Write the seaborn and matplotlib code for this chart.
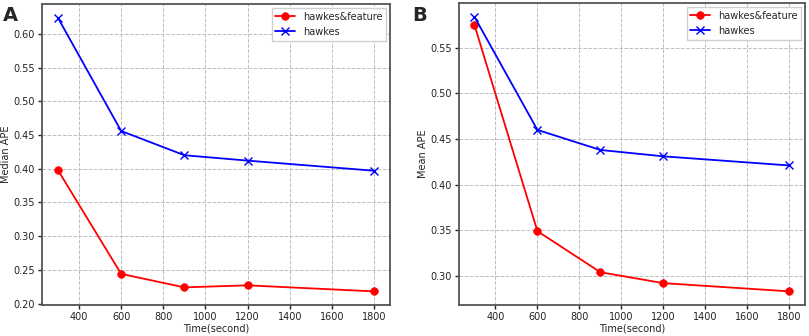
import matplotlib
matplotlib.use("Agg")
import matplotlib.pyplot as plt
import seaborn as sns
import pandas as pd

times = [300, 600, 900, 1200, 1800]
median_feature = [0.398, 0.244, 0.224, 0.227, 0.218]
median_hawkes = [0.624, 0.456, 0.420, 0.412, 0.397]
mean_feature = [0.575, 0.349, 0.304, 0.292, 0.283]
mean_hawkes = [0.584, 0.460, 0.438, 0.431, 0.421]
series_names = ["hawkes&feature", "hawkes"]

sns.set_style("ticks")
plt.rcParams['font.family'] = ['DejaVu Sans']

fig = plt.figure(figsize=(8.09, 3.36), dpi=100)
ax1 = fig.add_axes([0.052, 0.092, 0.430, 0.896])
ax2 = fig.add_axes([0.567, 0.092, 0.428, 0.899])

def draw(ax, feat, hawk, ylabel, letter, lx):
    sns.lineplot(x=times, y=feat, color="red", marker="o", markersize=5.5,
                 markeredgecolor="red", markeredgewidth=0.5, linewidth=1.3,
                 label=series_names[0], ax=ax)
    sns.lineplot(x=times, y=hawk, color="blue", marker="x", markersize=5.5,
                 markeredgecolor="blue", markeredgewidth=1.0, linewidth=1.3,
                 label=series_names[1], ax=ax)
    ax.grid(True, linestyle="--", color="#bdbdbd", linewidth=0.7)
    ax.set_xlabel("Time(second)", fontsize=7, labelpad=1, color="#222222")
    ax.set_ylabel(ylabel, fontsize=7, labelpad=1.5, color="#222222")
    ax.tick_params(labelsize=7, length=3, width=1, pad=2, colors="#222222")
    ax.set_xticks([400, 600, 800, 1000, 1200, 1400, 1600, 1800])
    for sp in ax.spines.values():
        sp.set_color("#555555")
        sp.set_linewidth(1.3)
    ax.margins(x=0.05, y=0.05)
    ax.legend(loc="upper right", fontsize=7, frameon=True, fancybox=False,
              framealpha=1, edgecolor="#d0d0d0", borderaxespad=0.4)
    fig.text(lx, 0.953, letter, fontsize=14, fontweight="bold", ha="left", va="center")

draw(ax1, median_feature, median_hawkes, "Median APE", "A", 0.003)
draw(ax2, mean_feature, mean_hawkes, "Mean APE", "B", 0.509)
ax1.set_yticks([0.20, 0.25, 0.30, 0.35, 0.40, 0.45, 0.50, 0.55, 0.60])
ax2.set_yticks([0.30, 0.35, 0.40, 0.45, 0.50, 0.55])

fig.savefig("out.png", dpi=100)
